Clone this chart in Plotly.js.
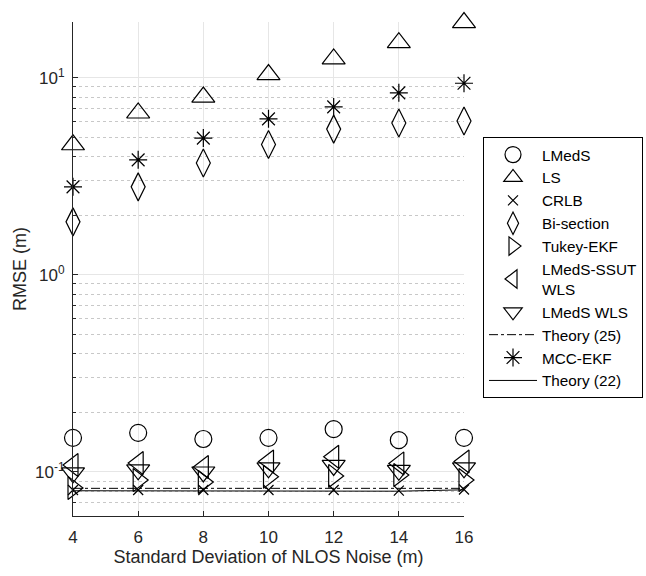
<!DOCTYPE html>
<html>
<head>
<meta charset="utf-8">
<script src="https://cdn.plot.ly/plotly-3.0.1.min.js"></script>
<style>html,body{margin:0;padding:0;background:#fff}#chart{width:646px;height:576px}</style>
</head>
<body>
<div id="chart"></div>
<script>
const xValues = [4, 6, 8, 10, 12, 14, 16];
const lmeds = [0.149, 0.158, 0.147, 0.149, 0.165, 0.145, 0.149];
const ls = [4.58, 6.64, 8.0, 10.4, 12.5, 15.1, 19.1];
const crlb = [0.081, 0.081, 0.081, 0.081, 0.081, 0.0805, 0.0815];
const bisection = [1.86, 2.8, 3.7, 4.6, 5.5, 5.9, 6.05];
const tukeyEkf = [0.083, 0.091, 0.089, 0.0945, 0.0955, 0.0965, 0.091];
const lmedsSsutWls = [0.1085, 0.111, 0.106, 0.113, 0.1195, 0.1105, 0.113];
const lmedsWls = [0.099, 0.1025, 0.1, 0.105, 0.108, 0.102, 0.105];
const theory25 = [0.0826, 0.0826, 0.0826, 0.0826, 0.0826, 0.0826, 0.0826];
const mccEkf = [2.8, 3.84, 4.95, 6.2, 7.13, 8.4, 9.4];
const theory22 = [0.0803, 0.0803, 0.0803, 0.0803, 0.0803, 0.0799, 0.0812];

const names = ['LMedS', 'LS', 'CRLB', 'Bi-section', 'Tukey-EKF', 'LMedS-SSUT<br>WLS', 'LMedS WLS', 'Theory (25)', 'MCC-EKF', 'Theory (22)'];

const ink = '#000000';
function mk(name, y, symbol, size) {
  return {x: xValues, y: y, name: name, mode: 'markers', type: 'scatter', cliponaxis: false,
    marker: {symbol: symbol, size: size, color: ink, line: {color: ink, width: 1.2}}};
}
function ln(name, y, dash) {
  return {x: xValues, y: y, name: name, mode: 'lines', type: 'scatter',
    line: {color: ink, width: 1, dash: dash}};
}
const traces = [
  mk(names[0], lmeds, 'circle-open', 17),
  mk(names[1], ls, 'triangle-up-open', 20),
  mk(names[2], crlb, 'x-thin-open', 10),
  mk(names[3], bisection, 'diamond-tall-open', 20),
  mk(names[4], tukeyEkf, 'triangle-right-open', 20),
  mk(names[5], lmedsSsutWls, 'triangle-left-open', 20),
  mk(names[6], lmedsWls, 'triangle-down-open', 20),
  ln(names[7], theory25, 'dashdot'),
  mk(names[8], mccEkf, 'asterisk-open', 15),
  ln(names[9], theory22, 'solid')
];

const font = 'Liberation Sans, Arial, Helvetica, sans-serif';
const layout = {
  width: 646, height: 576,
  margin: {l: 73, r: 182, t: 22, b: 60, pad: 0, autoexpand: false},
  paper_bgcolor: '#ffffff', plot_bgcolor: '#ffffff',
  font: {family: font, color: '#262626', size: 14},
  showlegend: true,
  legend: {x: 1.0486, y: 0.767, xanchor: 'left', yanchor: 'top',
    bordercolor: '#000000', borderwidth: 1, bgcolor: '#ffffff',
    font: {family: font, size: 15.3, color: '#000000'},
    itemwidth: 48, tracegroupgap: 0, itemsizing: 'trace', traceorder: 'normal'},
  xaxis: {
    range: [4, 16], tickvals: xValues, ticktext: xValues.map(String),
    ticks: 'inside', ticklen: 5, tickcolor: '#262626',
    showline: true, linecolor: '#262626', linewidth: 1, mirror: false,
    showgrid: true, gridcolor: '#e6e6e6', gridwidth: 1, zeroline: false,
    tickfont: {size: 17, family: font, color: '#262626'}, ticklabelstandoff: 6,
    title: {text: 'Standard Deviation of NLOS Noise (m)', font: {size: 18, family: font, color: '#262626'}, standoff: 1}
  },
  yaxis: {
    type: 'log', range: [-1.2234, 1.284],
    tickvals: [0.1, 1, 10], ticktext: ['10<sup>-1</sup>', '10<sup>0</sup>', '10<sup>1</sup>'],
    ticks: 'inside', ticklen: 5, tickcolor: '#262626',
    showline: true, linecolor: '#262626', linewidth: 1, mirror: false,
    showgrid: true, gridcolor: '#e6e6e6', gridwidth: 1, zeroline: false,
    tickfont: {size: 17, family: font, color: '#262626'}, ticklabelstandoff: 4,
    minor: {tickvals: [0.07,0.08,0.09,0.2,0.3,0.4,0.5,0.6,0.7,0.8,0.9,2,3,4,5,6,7,8,9],
      ticks: 'inside', ticklen: 3, tickcolor: '#262626',
      showgrid: true, gridcolor: '#c8c8c8', gridwidth: 1, griddash: 'dot'},
    title: {text: 'RMSE (m)', font: {size: 18, family: font, color: '#262626'}, standoff: 3}
  }
};
Plotly.newPlot('chart', traces, layout, {displayModeBar: false, staticPlot: true});
</script>
</body>
</html>
